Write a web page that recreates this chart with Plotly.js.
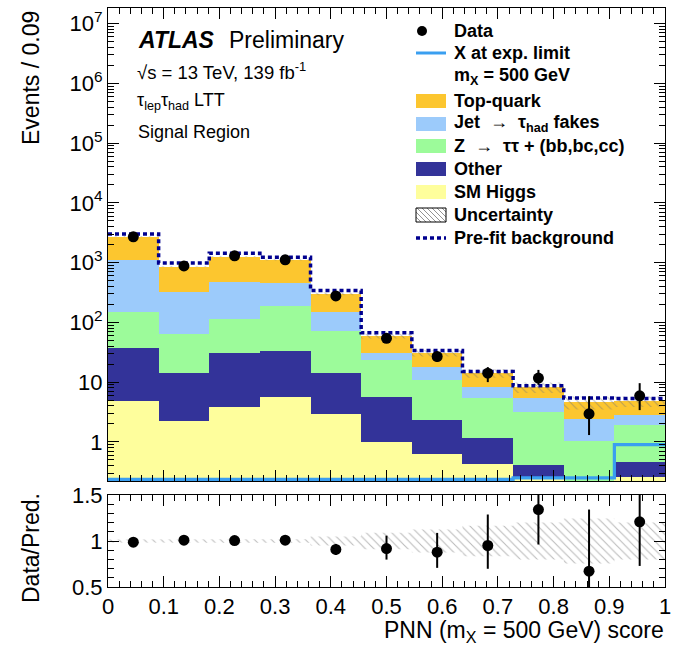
<!DOCTYPE html>
<html>
<head>
<meta charset="utf-8">
<script src="https://cdn.plot.ly/plotly-3.0.1.min.js"></script>
<style>html,body{margin:0;padding:0;background:#fff;} #plot{width:681px;height:650px;}</style>
</head>
<body>
<div id="plot"></div>
<script>
// ---------------- data ----------------
const binEdges = [0, 0.0909, 0.1818, 0.2727, 0.3636, 0.4545, 0.5455, 0.6364, 0.7273, 0.8182, 0.9091, 1.0];
const smHiggs  = [4.9, 2.2, 3.8, 5.7, 2.95, 1.0, 0.63, 0.43, 0.26, 0.10, 0.26];
const other    = [32, 11.8, 26.7, 27.3, 11, 4.6, 1.71, 0.73, 0.15, 0.08, 0.20];
const zttHF    = [114, 49, 82.5, 156, 59, 17.4, 8.66, 4.24, 2.74, 0.87, 1.44];
const jetFakes = [959, 253, 367, 273, 77, 7.6, 6.8, 3.0, 2.25, 1.35, 0.95];
const topQuark = [1610, 541, 780, 648, 150, 28.4, 12.7, 5.7, 2.8, 2.2, 1.95];
const prefit   = [3020, 980, 1435, 1230, 340, 67, 33.7, 15.1, 8.7, 5.4, 5.3];
const signalX  = [0.235, 0.235, 0.235, 0.235, 0.235, 0.235, 0.235, 0.235, 0.25, 0.25, 0.9];
const dataVals = [2700, 880, 1295, 1110, 277, 54, 26.8, 14.1, 11.7, 2.95, 5.9];
const dataErrUp   = [52, 30, 36, 33, 17, 7.5, 5.5, 3.7, 4.3, 2.85, 3.7];
const dataErrDown = [52, 30, 36, 33, 17, 7.0, 5.0, 4.1, 2.7, 1.65, 2.5];
const relUnc   = [0.015, 0.015, 0.015, 0.02, 0.05, 0.09, 0.125, 0.165, 0.2, 0.245, 0.2];
const ratio        = [0.987, 1.009, 1.005, 1.009, 0.908, 0.918, 0.878, 0.951, 1.342, 0.672, 1.209];
const ratioErrUp   = [0.02, 0.02, 0.02, 0.02, 0.06, 0.14, 0.21, 0.337, 0.25, 0.67, 0.75];
const ratioErrDown = [0.02, 0.02, 0.02, 0.02, 0.06, 0.12, 0.17, 0.253, 0.38, 0.37, 0.48];
const xTickVals = [0, 0.1, 0.2, 0.3, 0.4, 0.5, 0.6, 0.7, 0.8, 0.9, 1];
const xTickText = ['0', '0.1', '0.2', '0.3', '0.4', '0.5', '0.6', '0.7', '0.8', '0.9', '1'];
const yTickVals = [1, 10, 100, 1e3, 1e4, 1e5, 1e6, 1e7];
const yTickText = ['1', '10', '10<sup>2</sup>', '10<sup>3</sup>', '10<sup>4</sup>', '10<sup>5</sup>', '10<sup>6</sup>', '10<sup>7</sup>'];

const colTop = '#fcc62f', colJet = '#9ccbfb', colZ = '#9cfb9a', colOther = '#333399', colHiggs = '#fefe9c';
const colSig = '#3a9ff0', colPre = '#00008f';
const FONT = 'Liberation Sans, Arial, Helvetica, sans-serif';

// ---------------- derived ----------------
const nb = dataVals.length;
const centers = [], widths = [];
for (let i = 0; i < nb; i++) { centers.push((binEdges[i] + binEdges[i+1]) / 2); widths.push(binEdges[i+1] - binEdges[i]); }
const total = centers.map((_, i) => smHiggs[i] + other[i] + zttHF[i] + jetFakes[i] + topQuark[i]);
function stepXY(vals) { return { x: binEdges.slice(), y: vals.concat([vals[vals.length-1]]) }; }
function bandPoly(lo, hi) {
  const xs = [], ys = [];
  for (let i = 0; i < nb; i++) { xs.push(binEdges[i], binEdges[i+1]); ys.push(hi[i], hi[i]); }
  for (let i = nb - 1; i >= 0; i--) { xs.push(binEdges[i+1], binEdges[i]); ys.push(lo[i], lo[i]); }
  xs.push(xs[0]); ys.push(ys[0]);
  return { x: xs, y: ys };
}

const traces = [];
function barTrace(vals, col, name) {
  return { type: 'bar', x: centers, y: vals, width: widths, name: name, marker: { color: col, line: { width: 0 } },
           xaxis: 'x', yaxis: 'y', showlegend: false, hoverinfo: 'skip' };
}
traces.push(barTrace(smHiggs, colHiggs, 'SM Higgs'));
traces.push(barTrace(other, colOther, 'Other'));
traces.push(barTrace(zttHF, colZ, 'Z'));
traces.push(barTrace(jetFakes, colJet, 'Jet fakes'));
traces.push(barTrace(topQuark, colTop, 'Top-quark'));

const hatch = { shape: '\\', fgcolor: '#777777', bgcolor: 'rgba(0,0,0,0)', size: 6, solidity: 0.18, fillmode: 'overlay' };
const mb = bandPoly(total.map((t, i) => t * (1 - relUnc[i])), total.map((t, i) => t * (1 + relUnc[i])));
traces.push({ type: 'scatter', mode: 'lines', x: mb.x, y: mb.y, fill: 'toself', fillcolor: 'rgba(0,0,0,0)',
  fillpattern: hatch, line: { width: 0 }, xaxis: 'x', yaxis: 'y', showlegend: false, hoverinfo: 'skip' });

const sg = stepXY(signalX);
traces.push({ type: 'scatter', mode: 'lines', x: sg.x, y: sg.y, line: { shape: 'hv', color: colSig, width: 3.2 },
  xaxis: 'x', yaxis: 'y', showlegend: false });
const pf = stepXY(prefit);
traces.push({ type: 'scatter', mode: 'lines', x: pf.x, y: pf.y, line: { shape: 'hv', color: colPre, width: 3.5, dash: '4px,3px' },
  xaxis: 'x', yaxis: 'y', showlegend: false });
traces.push({ type: 'scatter', mode: 'markers', x: centers, y: dataVals,
  marker: { color: 'black', size: 11 },
  error_y: { type: 'data', symmetric: false, array: dataErrUp, arrayminus: dataErrDown, color: 'black', thickness: 2, width: 0 },
  xaxis: 'x', yaxis: 'y', showlegend: false });

// ratio panel
const rb = bandPoly(relUnc.map(u => 1 - u), relUnc.map(u => 1 + u));
traces.push({ type: 'scatter', mode: 'lines', x: rb.x, y: rb.y, fill: 'toself', fillcolor: 'rgba(0,0,0,0)',
  fillpattern: hatch, line: { width: 0 }, xaxis: 'x2', yaxis: 'y2', showlegend: false, hoverinfo: 'skip' });
traces.push({ type: 'scatter', mode: 'markers', x: centers, y: ratio,
  marker: { color: 'black', size: 11 },
  error_y: { type: 'data', symmetric: false, array: ratioErrUp, arrayminus: ratioErrDown, color: 'black', thickness: 2, width: 0 },
  xaxis: 'x2', yaxis: 'y2', showlegend: false });

// ---------------- layout ----------------
const L = 108, R = 665, T = 8, B = 587;
const px = p => (p - L) / (R - L);
const py = p => (B - p) / (B - T);

const minorLog = [];
for (let k = -1; k <= 7; k++) for (let m = 2; m <= 9; m++) minorLog.push(m * Math.pow(10, k));

const axBase = { showline: true, linecolor: 'black', linewidth: 1, mirror: 'allticks', ticks: 'inside',
  tickcolor: 'black', showgrid: false, zeroline: false, tickfont: { family: FONT, size: 22, color: 'black' } };

const annotations = [];
const shapes = [];
function txt(t, x, y, size, opts) {
  annotations.push(Object.assign({ text: t, x: px(x), y: py(y), xref: 'paper', yref: 'paper', xanchor: 'left', yanchor: 'middle',
    showarrow: false, font: { family: FONT, size: size, color: 'black' } }, opts || {}));
}
// in-plot labels
txt('<b><i>ATLAS</i></b>', 136, 40, 23);
txt('Preliminary', 227, 40, 23);
txt('√s = 13 TeV, 139 fb<sup>-1</sup>', 135, 71, 18.5);
txt('τ<sub>lep</sub>τ<sub>had</sub> LTT', 135, 102, 18);
txt('Signal Region', 136, 132, 18);

// legend
const legX0 = 416, legX1 = 446, legTX = 452, LS = 18;
const legY = [31, 53, 76, 101, 124, 146, 169, 192, 215, 238];
txt('<b>Data</b>', legTX, legY[0], LS);
txt('<b>X at exp. limit</b>', legTX, legY[1], LS);
txt('<b>m<sub>X</sub> = 500 GeV</b>', legTX, legY[2], LS);
txt('<b>Top-quark</b>', legTX, legY[3], LS);
txt('<b>Jet  →  τ<sub>had</sub> fakes</b>', legTX, legY[4], LS);
txt('<b>Z  →  ττ + (bb,bc,cc)</b>', legTX, legY[5], LS);
txt('<b>Other</b>', legTX, legY[6], LS);
txt('<b>SM Higgs</b>', legTX, legY[7], LS);
txt('<b>Uncertainty</b>', legTX, legY[8], LS);
txt('<b>Pre-fit background</b>', legTX, legY[9], LS);

shapes.push({ type: 'circle', xref: 'paper', yref: 'paper', x0: px(417), x1: px(427), y0: py(legY[0] + 5), y1: py(legY[0] - 5),
  fillcolor: 'black', line: { width: 0 } });
shapes.push({ type: 'line', xref: 'paper', yref: 'paper', x0: px(legX0), x1: px(legX1), y0: py(legY[1]), y1: py(legY[1]),
  line: { color: colSig, width: 3 } });
[[colTop, 3], [colJet, 4], [colZ, 5], [colOther, 6], [colHiggs, 7]].forEach(([c, i]) => {
  shapes.push({ type: 'rect', xref: 'paper', yref: 'paper', x0: px(legX0), x1: px(legX1), y0: py(legY[i] + 7), y1: py(legY[i] - 7),
    fillcolor: c, line: { width: 0 } });
});
// hatched uncertainty box
{
  const yTop = legY[8] - 7, yBot = legY[8] + 7;
  let path = '';
  for (let c = legX0 - yBot; c <= legX1 - yTop; c += 5) {
    const ya = Math.max(yTop, legX0 - c), yb = Math.min(yBot, legX1 - c);
    if (yb > ya) path += `M${px(ya + c)},${py(ya)} L${px(yb + c)},${py(yb)} `;
  }
  shapes.push({ type: 'path', xref: 'paper', yref: 'paper', path: path, line: { color: '#777', width: 0.8 } });
  shapes.push({ type: 'rect', xref: 'paper', yref: 'paper', x0: px(legX0), x1: px(legX1), y0: py(yBot), y1: py(yTop),
    line: { color: 'black', width: 1 }, fillcolor: 'rgba(0,0,0,0)' });
}
shapes.push({ type: 'line', xref: 'paper', yref: 'paper', x0: px(legX0), x1: px(legX1), y0: py(legY[9]), y1: py(legY[9]),
  line: { color: colPre, width: 3.5, dash: '4px,3px' } });

// axis titles
annotations.push({ text: 'Events / 0.09', textangle: -90, x: px(31), y: py(9), xref: 'paper', yref: 'paper',
  xanchor: 'center', yanchor: 'top', showarrow: false, font: { family: FONT, size: 23, color: 'black' } });
annotations.push({ text: 'Data/Pred.', textangle: -90, x: px(31), y: py(491), xref: 'paper', yref: 'paper',
  xanchor: 'center', yanchor: 'top', showarrow: false, font: { family: FONT, size: 23, color: 'black' } });
annotations.push({ text: 'PNN (m<sub>X</sub> = 500 GeV) score', x: px(666), y: py(615), xref: 'paper', yref: 'paper',
  xanchor: 'right', yanchor: 'top', showarrow: false, font: { family: FONT, size: 23, color: 'black' } });

const layout = {
  width: 681, height: 650,
  margin: { l: L, r: 681 - R, t: T, b: 650 - B, pad: 0 },
  paper_bgcolor: 'white', plot_bgcolor: 'white',
  barmode: 'stack', bargap: 0,
  showlegend: false,
  font: { family: FONT, color: 'black' },
  xaxis: Object.assign({}, axBase, { domain: [0, 1], anchor: 'y', range: [0, 1], tickmode: 'array', tickvals: xTickVals,
    showticklabels: false, ticklen: 11,
    minor: { tickmode: 'linear', tick0: 0, dtick: 0.02, ticklen: 6, ticks: 'inside', tickcolor: 'black' } }),
  yaxis: Object.assign({}, axBase, { domain: [py(481), 1], anchor: 'x', type: 'log', range: [-0.655, 7.26],
    tickmode: 'array', tickvals: yTickVals, ticktext: yTickText, ticklen: 11,
    minor: { tickmode: 'array', tickvals: minorLog, ticklen: 6, ticks: 'inside', tickcolor: 'black' } }),
  xaxis2: Object.assign({}, axBase, { domain: [0, 1], anchor: 'y2', range: [0, 1], tickmode: 'array', tickvals: xTickVals,
    ticktext: xTickText, ticklen: 11,
    minor: { tickmode: 'linear', tick0: 0, dtick: 0.02, ticklen: 6, ticks: 'inside', tickcolor: 'black' } }),
  yaxis2: Object.assign({}, axBase, { domain: [0, py(495)], anchor: 'x2', range: [0.5, 1.5],
    tickmode: 'array', tickvals: [0.5, 1, 1.5], ticktext: ['0.5', '1', '1.5'], ticklen: 11,
    minor: { tickmode: 'linear', tick0: 0.5, dtick: 0.1, ticklen: 6, ticks: 'inside', tickcolor: 'black' } }),
  annotations: annotations,
  shapes: shapes
};

Plotly.newPlot('plot', traces, layout, { staticPlot: true, displayModeBar: false });
</script>
</body>
</html>
